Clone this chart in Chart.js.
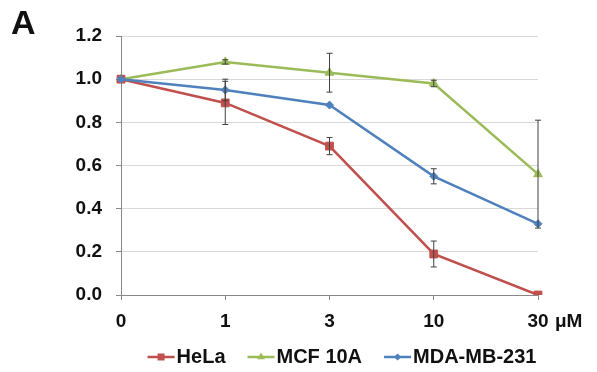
<!DOCTYPE html>
<html>
<head>
<meta charset="utf-8">
<script src="https://cdn.jsdelivr.net/npm/chart.js@4"></script>
<style>
  body { margin: 0; background: #fff; }
  #wrap { position: relative; width: 597px; height: 372px; }
</style>
</head>
<body>
<div id="wrap"><canvas id="myChart" width="597" height="372"></canvas></div>
<script>
  // data
  const doses = ['0', '1', '3', '10', '30'];
  const unitLabel = 'μM';
  const panelLabel = 'A';
  const seriesNames = ['HeLa', 'MCF 10A', 'MDA-MB-231'];
  const helaMean = [1.0, 0.89, 0.69, 0.19, 0.0];
  const helaErr  = [0, 0.10, 0.04, 0.06, 0];
  const mcfMean  = [1.0, 1.08, 1.03, 0.98, 0.56];
  const mcfErr   = [0, 0.01, 0.09, 0.015, 0.25];
  const mdaMean  = [1.0, 0.95, 0.88, 0.55, 0.33];
  const mdaErr   = [0, 0.05, 0, 0.035, 0];
  const yTicks = [0, 0.2, 0.4, 0.6, 0.8, 1.0, 1.2];

  const FONT = '"Liberation Sans", Arial, sans-serif';
  const red = '#C0504D', green = '#9BBB59', blue = '#4F81BD';

  // error bars, drawn from the arrays above through the scales
  const errorBars = {
    id: 'errorBars',
    afterDatasetsDraw(chart) {
      const { ctx, scales: { x, y } } = chart;
      ctx.save();
      ctx.strokeStyle = '#404040';
      ctx.lineWidth = 1;
      chart.data.datasets.forEach(ds => {
        ds.data.forEach((v, i) => {
          const e = ds.err[i];
          if (!e) return;
          const px = x.getPixelForValue(i);
          const top = y.getPixelForValue(v + e);
          const bot = y.getPixelForValue(v - e);
          ctx.beginPath();
          ctx.moveTo(px, top); ctx.lineTo(px, bot);
          ctx.moveTo(px - 3, top); ctx.lineTo(px + 3, top);
          ctx.moveTo(px - 3, bot); ctx.lineTo(px + 3, bot);
          ctx.stroke();
        });
      });
      ctx.restore();
    }
  };

  // panel letter, unit label and line+marker legend
  const extras = {
    id: 'extras',
    afterDraw(chart) {
      const { ctx, chartArea } = chart;
      ctx.save();
      ctx.fillStyle = '#111';
      ctx.textBaseline = 'middle';
      ctx.font = 'bold 34px ' + FONT;
      ctx.textAlign = 'left';
      ctx.fillText(panelLabel, 11, 25);

      ctx.font = 'bold 19px ' + FONT;
      ctx.fillText(unitLabel, chartArea.right + 17, 322);

      ctx.font = 'bold 20px ' + FONT;
      const lineLen = 27, gapText = 2, gapItem = 22;
      const items = chart.data.datasets.map(ds => ({ ds, w: lineLen + gapText + ctx.measureText(ds.label).width }));
      const total = items.reduce((s, it) => s + it.w, 0) + gapItem * (items.length - 1);
      let cx = 342 - total / 2;
      const cy = 357;
      items.forEach(({ ds, w }) => {
        ctx.strokeStyle = ds.borderColor;
        ctx.lineWidth = 2.5;
        ctx.beginPath();
        ctx.moveTo(cx, cy); ctx.lineTo(cx + lineLen, cy);
        ctx.stroke();
        ctx.fillStyle = ds.borderColor;
        Chart.helpers.drawPoint(ctx, {
          pointStyle: ds.pointStyle, radius: ds.pointRadius * 0.9, borderWidth: 0
        }, cx + lineLen / 2, cy);
        ctx.fillStyle = '#111';
        ctx.fillText(ds.label, cx + lineLen + gapText, cy);
        cx += w + gapItem;
      });
      ctx.restore();
    }
  };

  const data = {
    labels: doses,
    datasets: [
      { label: seriesNames[0], data: helaMean, err: helaErr, borderColor: red, backgroundColor: red,
        pointStyle: 'rect', pointRadius: 5.5, pointBorderWidth: 1, borderWidth: 2.5, order: 1 },
      { label: seriesNames[1], data: mcfMean, err: mcfErr, borderColor: green, backgroundColor: green,
        pointStyle: 'triangle', pointRadius: 5, pointBorderWidth: 1, borderWidth: 2.5, order: 2 },
      { label: seriesNames[2], data: mdaMean, err: mdaErr, borderColor: blue, backgroundColor: blue,
        pointStyle: 'rectRot', pointRadius: 4, pointBorderWidth: 1, borderWidth: 2.5, order: 0 }
    ]
  };

  const config = {
    type: 'line',
    data,
    plugins: [errorBars, extras],
    options: {
      responsive: false,
      animation: false,
      devicePixelRatio: 1,
      layout: { padding: { top: 36, right: 59, bottom: 0, left: 0 } },
      plugins: { legend: { display: false }, tooltip: { enabled: false } },
      elements: { line: { tension: 0 }, point: { hoverRadius: 5 } },
      scales: {
        x: {
          offset: false,
          afterFit: s => { s.height = 77; },
          grid: { offset: false, drawOnChartArea: false, tickLength: 5, tickColor: '#888' },
          border: { color: '#888' },
          ticks: { color: '#111', padding: 10, maxRotation: 0, font: { family: FONT, size: 19, weight: 'bold' } }
        },
        y: {
          min: 0,
          max: 1.2,
          afterFit: s => { s.width = 121; },
          afterBuildTicks: s => { s.ticks = yTicks.map(v => ({ value: v })); },
          grid: { color: '#d9d9d9', tickColor: '#888', tickLength: 5 },
          border: { color: '#888' },
          ticks: { color: '#111', padding: 14, callback: v => v.toFixed(1), font: { family: FONT, size: 19, weight: 'bold' } }
        }
      }
    }
  };

  const myChart = new Chart(document.getElementById('myChart'), config);
</script>
</body>
</html>
